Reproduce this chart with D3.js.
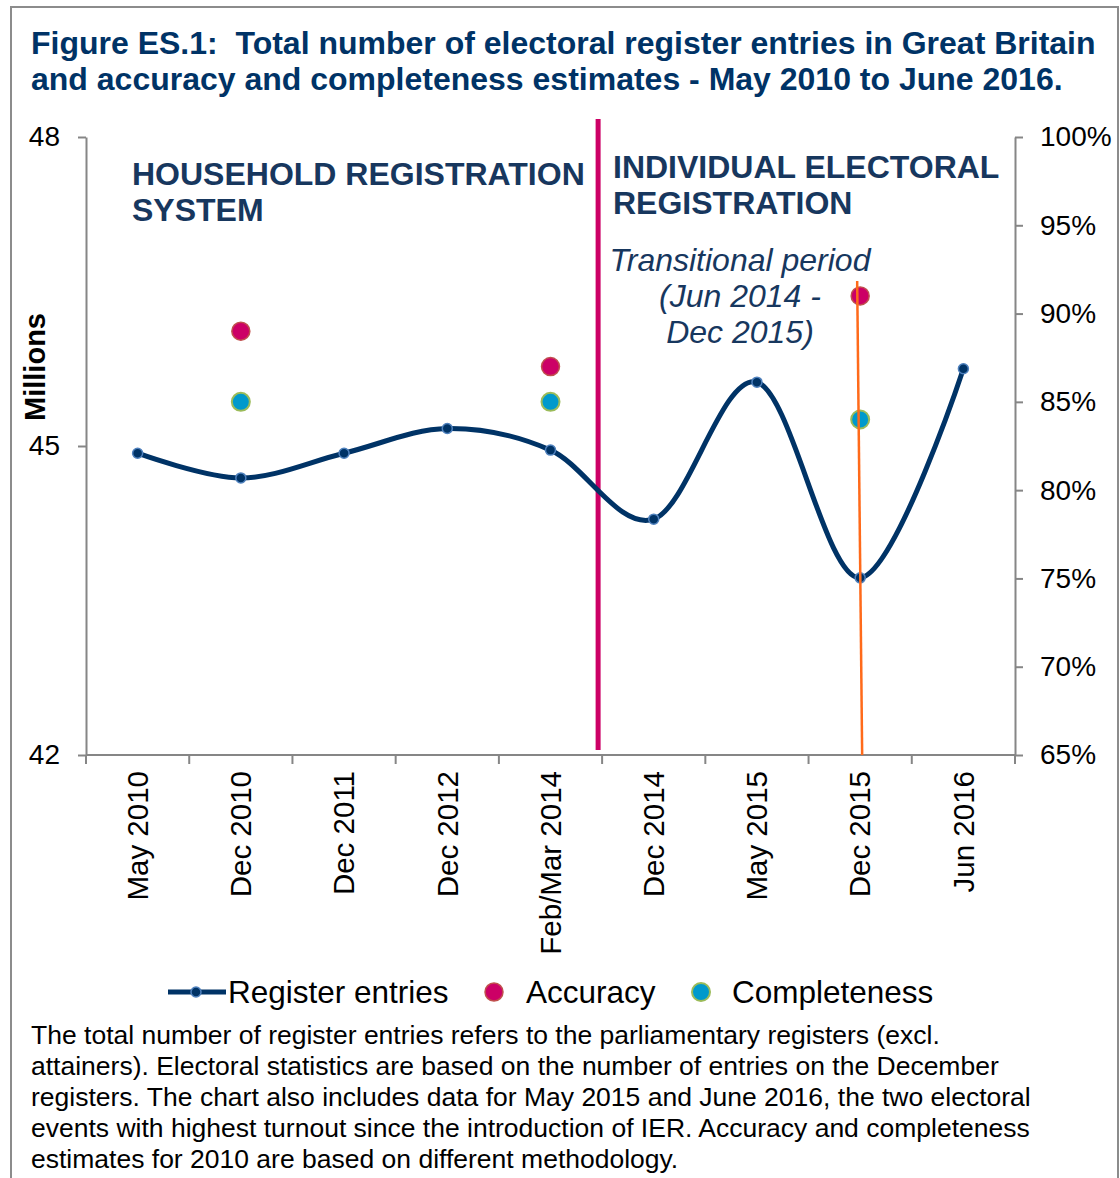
<!DOCTYPE html>
<html>
<head>
<meta charset="utf-8">
<script src="https://cdn.jsdelivr.net/npm/d3@7"></script>
<style>
  body { margin: 0; background: #fff; }
  svg { display: block; font-family: "Liberation Sans", Arial, sans-serif; }
  text { white-space: pre; }
</style>
</head>
<body>
<svg id="chart" width="1120" height="1178"></svg>
<script>
// data
const periods = ['May 2010', 'Dec 2010', 'Dec 2011', 'Dec 2012', 'Feb/Mar 2014',
                 'Dec 2014', 'May 2015', 'Dec 2015', 'Jun 2016'];
const entries = [44.93, 44.69, 44.93, 45.17, 44.96, 44.29, 45.62, 43.72, 45.75]; // millions
const accuracy = [
    { period: 'Dec 2010', value: 89 },
    { period: 'Feb/Mar 2014', value: 87 },
    { period: 'Dec 2015', value: 91 }
];
const completeness = [
    { period: 'Dec 2010', value: 85 },
    { period: 'Feb/Mar 2014', value: 85 },
    { period: 'Dec 2015', value: 84 }
];
const leftTicks = [42, 45, 48];
const rightTicks = [65, 70, 75, 80, 85, 90, 95, 100];

const footnote = [
    'The total number of register entries refers to the parliamentary registers (excl.',
    'attainers). Electoral statistics are based on the number of entries on the December',
    'registers. The chart also includes data for May 2015 and June 2016, the two electoral',
    'events with highest turnout since the introduction of IER. Accuracy and completeness',
    'estimates for 2010 are based on different methodology.'
];

const navy = '#003366';
const axisGrey = '#868686';

const svg = d3.select('#chart');

// outer frame
svg.append('rect')
    .attr('x', 11).attr('y', 7)
    .attr('width', 1107).attr('height', 1200)
    .attr('fill', 'none')
    .attr('stroke', '#8c8c8c')
    .attr('stroke-width', 2);

// title
const title = svg.append('text')
    .attr('font-size', 32)
    .attr('font-weight', 'bold')
    .attr('fill', navy);
title.append('tspan').attr('x', 31).attr('y', 54)
    .text('Figure ES.1:  Total number of electoral register entries in Great Britain');
title.append('tspan').attr('x', 31).attr('y', 90)
    .text('and accuracy and completeness estimates - May 2010 to June 2016.');

// scales
const plotL = 86, plotR = 1015, plotT = 137, plotB = 755;
const x = d3.scaleBand().domain(periods).range([plotL, plotR]);
const cx = p => x(p) + x.bandwidth() / 2;
const y = d3.scaleLinear().domain([42, 48]).range([plotB, plotT]);
const yPct = d3.scaleLinear().domain([65, 100]).range([plotB, plotT]);

// axes
const styleAxis = g => {
    g.select('.domain').attr('stroke', axisGrey).attr('stroke-width', 2);
    g.selectAll('.tick line').attr('stroke', axisGrey).attr('stroke-width', 2);
    g.selectAll('.tick text').attr('fill', '#000').attr('font-size', 28)
        .attr('font-family', '"Liberation Sans", Arial, sans-serif');
};

svg.append('g')
    .attr('transform', `translate(${plotL},0)`)
    .call(d3.axisLeft(y).tickValues(leftTicks).tickSize(8).tickSizeOuter(0)
        .tickPadding(18).tickFormat(d3.format('d')))
    .call(styleAxis);

svg.append('g')
    .attr('transform', `translate(${plotR},0)`)
    .call(d3.axisRight(yPct).tickValues(rightTicks).tickSize(8).tickSizeOuter(0)
        .tickPadding(17).tickFormat(d => d + '%'))
    .call(styleAxis);

// x axis: ticks at category boundaries
const xAxis = svg.append('g').attr('transform', `translate(0,${plotB})`);
xAxis.append('line')
    .attr('x1', plotL).attr('x2', plotR)
    .attr('stroke', axisGrey).attr('stroke-width', 2);
xAxis.selectAll('.bound')
    .data(periods.map(p => x(p)).concat([plotR]))
    .enter().append('line')
    .attr('x1', d => d).attr('x2', d => d)
    .attr('y1', 0).attr('y2', 9)
    .attr('stroke', axisGrey).attr('stroke-width', 2);
xAxis.selectAll('.xlabel')
    .data(periods)
    .enter().append('text')
    .attr('transform', d => `translate(${cx(d)},16) rotate(-90)`)
    .attr('text-anchor', 'end')
    .attr('dy', '0.35em')
    .attr('font-size', 29.5)
    .attr('fill', '#000')
    .text(d => d);

// y axis title
svg.append('text')
    .attr('transform', 'translate(45,367) rotate(-90)')
    .attr('text-anchor', 'middle')
    .attr('font-size', 29)
    .attr('font-weight', 'bold')
    .text('Millions');

// section headings
const heading = (xPos, yPos, lines) => {
    const t = svg.append('text')
        .attr('font-size', 32).attr('font-weight', 'bold').attr('fill', '#17375E');
    lines.forEach((l, i) => t.append('tspan').attr('x', xPos).attr('y', yPos + i * 36).text(l));
};
heading(132, 185, ['HOUSEHOLD REGISTRATION', 'SYSTEM']);
heading(613, 178, ['INDIVIDUAL ELECTORAL', 'REGISTRATION']);

const trans = svg.append('text')
    .attr('font-size', 32).attr('font-style', 'italic')
    .attr('fill', '#17375E').attr('text-anchor', 'middle');
['Transitional period', '(Jun 2014 -', 'Dec 2015)'].forEach((l, i) =>
    trans.append('tspan').attr('x', 740).attr('y', 271 + i * 36).text(l));

// IER divider between Feb/Mar 2014 and Dec 2014
svg.append('line')
    .attr('x1', x('Dec 2014') - 4).attr('x2', x('Dec 2014') - 4)
    .attr('y1', 119).attr('y2', 750)
    .attr('stroke', '#CC0066').attr('stroke-width', 5);

// register entries line
const series = periods.map((p, i) => ({ period: p, value: entries[i] }));
const line = d3.line()
    .x(d => cx(d.period))
    .y(d => y(d.value))
    .curve(d3.curveCardinal.tension(0));

svg.append('path')
    .datum(series)
    .attr('d', line)
    .attr('fill', 'none')
    .attr('stroke', navy)
    .attr('stroke-width', 5);

svg.selectAll('.entry')
    .data(series)
    .enter().append('circle')
    .attr('cx', d => cx(d.period))
    .attr('cy', d => y(d.value))
    .attr('r', 5)
    .attr('fill', navy)
    .attr('stroke', '#4F81BD')
    .attr('stroke-width', 1.5);

// accuracy and completeness points
svg.selectAll('.acc')
    .data(accuracy)
    .enter().append('circle')
    .attr('cx', d => cx(d.period))
    .attr('cy', d => yPct(d.value))
    .attr('r', 9)
    .attr('fill', '#CC0066')
    .attr('stroke', '#C0504D')
    .attr('stroke-width', 1.5);

svg.selectAll('.comp')
    .data(completeness)
    .enter().append('circle')
    .attr('cx', d => cx(d.period))
    .attr('cy', d => yPct(d.value))
    .attr('r', 9)
    .attr('fill', '#0099CC')
    .attr('stroke', '#9BBB59')
    .attr('stroke-width', 2);

// end of transitional period marker (slightly slanted in the original)
svg.append('line')
    .attr('x1', cx('Dec 2015') - 3).attr('y1', 281)
    .attr('x2', cx('Dec 2015') + 2).attr('y2', plotB)
    .attr('stroke', '#FF6A1A').attr('stroke-width', 2.5);

// legend
const legend = svg.append('g').attr('font-size', 31.5).attr('fill', '#000');
legend.append('line')
    .attr('x1', 168).attr('x2', 226).attr('y1', 992).attr('y2', 992)
    .attr('stroke', navy).attr('stroke-width', 5);
legend.append('circle')
    .attr('cx', 196).attr('cy', 992).attr('r', 5)
    .attr('fill', navy).attr('stroke', '#4F81BD').attr('stroke-width', 1.5);
legend.append('text').attr('x', 228).attr('y', 1003).text('Register entries');
legend.append('circle')
    .attr('cx', 494).attr('cy', 992).attr('r', 9)
    .attr('fill', '#CC0066').attr('stroke', '#C0504D').attr('stroke-width', 1.5);
legend.append('text').attr('x', 526).attr('y', 1003).text('Accuracy');
legend.append('circle')
    .attr('cx', 701).attr('cy', 992).attr('r', 9)
    .attr('fill', '#0099CC').attr('stroke', '#9BBB59').attr('stroke-width', 2);
legend.append('text').attr('x', 732).attr('y', 1003).text('Completeness');

// footnote
const note = svg.append('text').attr('font-size', 26.5).attr('fill', '#000');
footnote.forEach((l, i) =>
    note.append('tspan').attr('x', 31).attr('y', 1044 + i * 31).text(l));
</script>
</body>
</html>
